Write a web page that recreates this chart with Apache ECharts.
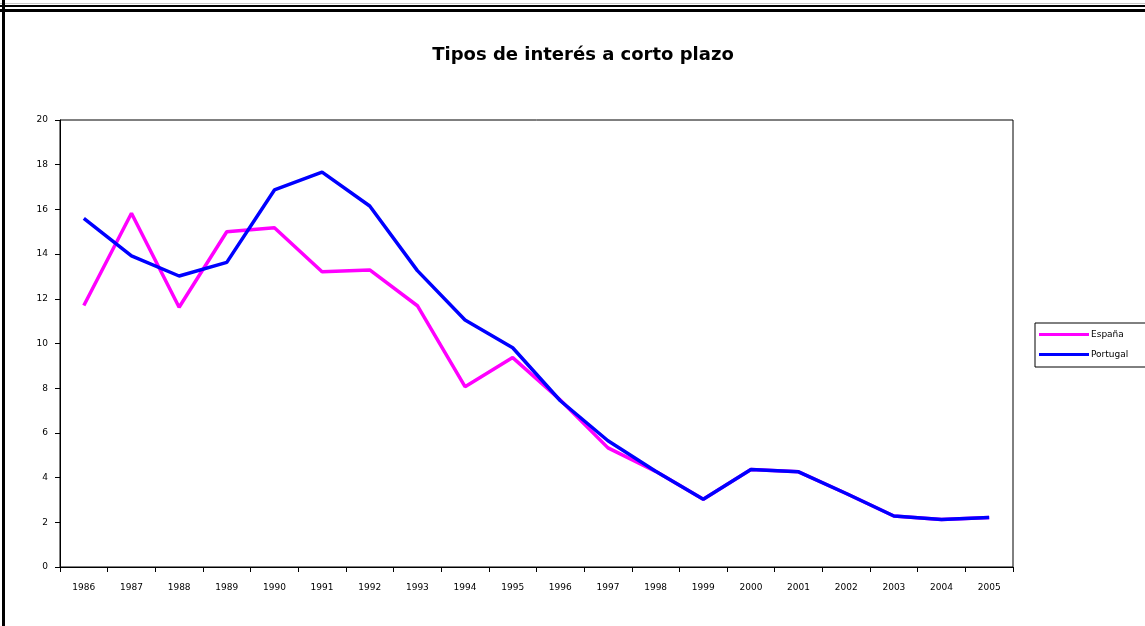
<!DOCTYPE html>
<html lang="es">
<head>
    <meta charset="UTF-8">
    <title>Tipos de interés a corto plazo</title>
    <style>
        html, body { margin: 0; padding: 0; background: #fff; }
        #main { width: 1145px; height: 626px; }
    </style>
</head>
<body>
<script src="https://cdn.jsdelivr.net/npm/echarts@6/dist/echarts.min.js"></script>

<div id="main"></div>

<script type="text/javascript">
    // datos
    var years = ['1986', '1987', '1988', '1989', '1990', '1991', '1992', '1993', '1994', '1995',
                 '1996', '1997', '1998', '1999', '2000', '2001', '2002', '2003', '2004', '2005'];
    var espana = [11.7, 15.83, 11.62, 15.0, 15.18, 13.21, 13.29, 11.69, 8.07, 9.37,
                  7.47, 5.33, 4.28, 3.03, 4.36, 4.26, 3.29, 2.28, 2.13, 2.22];
    var portugal = [15.6, 13.92, 13.02, 13.63, 16.87, 17.67, 16.15, 13.26, 11.05, 9.81,
                    7.44, 5.65, 4.28, 3.03, 4.36, 4.26, 3.29, 2.28, 2.13, 2.22];
    var yTicks = { min: 0, max: 20, interval: 2 };

    var myChart = echarts.init(document.getElementById('main'));

    var option = {
        backgroundColor: '#fff',
        animation: false,
        textStyle: { fontFamily: '"DejaVu Sans", sans-serif' },
        title: {
            text: 'Tipos de interés a corto plazo',
            left: 578,
            top: 41,
            textAlign: 'center',
            textStyle: { fontSize: 18, fontWeight: 'bold', color: '#000', fontFamily: '"DejaVu Sans", sans-serif' }
        },
        // marco de la hoja
        graphic: [
            { type: 'rect', shape: { x: 0, y: 3, width: 1145, height: 1 }, style: { fill: '#c8c8c8' } },
            { type: 'rect', shape: { x: 0, y: 5, width: 1145, height: 2 }, style: { fill: '#000' } },
            { type: 'rect', shape: { x: 0, y: 9, width: 1145, height: 3 }, style: { fill: '#000' } },
            { type: 'rect', shape: { x: 2, y: 0, width: 3, height: 626 }, style: { fill: '#000' } }
        ],
        legend: {
            data: ['España', 'Portugal'],
            orient: 'vertical',
            left: 1035,
            top: 323,
            icon: 'rect',
            itemWidth: 50,
            itemHeight: 3,
            itemGap: 11,
            padding: [7, 25, 8, 4],
            borderColor: '#000',
            borderWidth: 1,
            textStyle: { fontSize: 9, color: '#000', padding: [0, 0, 0, -3] }
        },
        grid: {
            left: 60,
            right: 132,
            top: 120,
            bottom: 59,
            show: true,
            borderColor: '#000',
            borderWidth: 1,
            backgroundColor: '#fff'
        },
        xAxis: {
            type: 'category',
            data: years,
            boundaryGap: true,
            axisLine: { lineStyle: { color: '#000', width: 1 } },
            axisTick: { show: true, length: 5, lineStyle: { color: '#000' } },
            axisLabel: { fontSize: 9, color: '#000', margin: 16, interval: 0 },
            splitLine: { show: false }
        },
        yAxis: {
            type: 'value',
            min: yTicks.min,
            max: yTicks.max,
            interval: yTicks.interval,
            axisLine: { show: true, lineStyle: { color: '#000', width: 1 } },
            axisTick: { show: true, length: 5, lineStyle: { color: '#000' } },
            axisLabel: { fontSize: 9, color: '#000', margin: 12 },
            splitLine: { show: false }
        },
        series: [
            {
                name: 'España',
                type: 'line',
                data: espana,
                symbol: 'none',
                color: '#ff00ff',
                lineStyle: { color: '#ff00ff', width: 3.5 }
            },
            {
                name: 'Portugal',
                type: 'line',
                data: portugal,
                symbol: 'none',
                color: '#0000ff',
                lineStyle: { color: '#0000ff', width: 3.5 }
            }
        ]
    };

    myChart.setOption(option);
</script>
</body>
</html>
